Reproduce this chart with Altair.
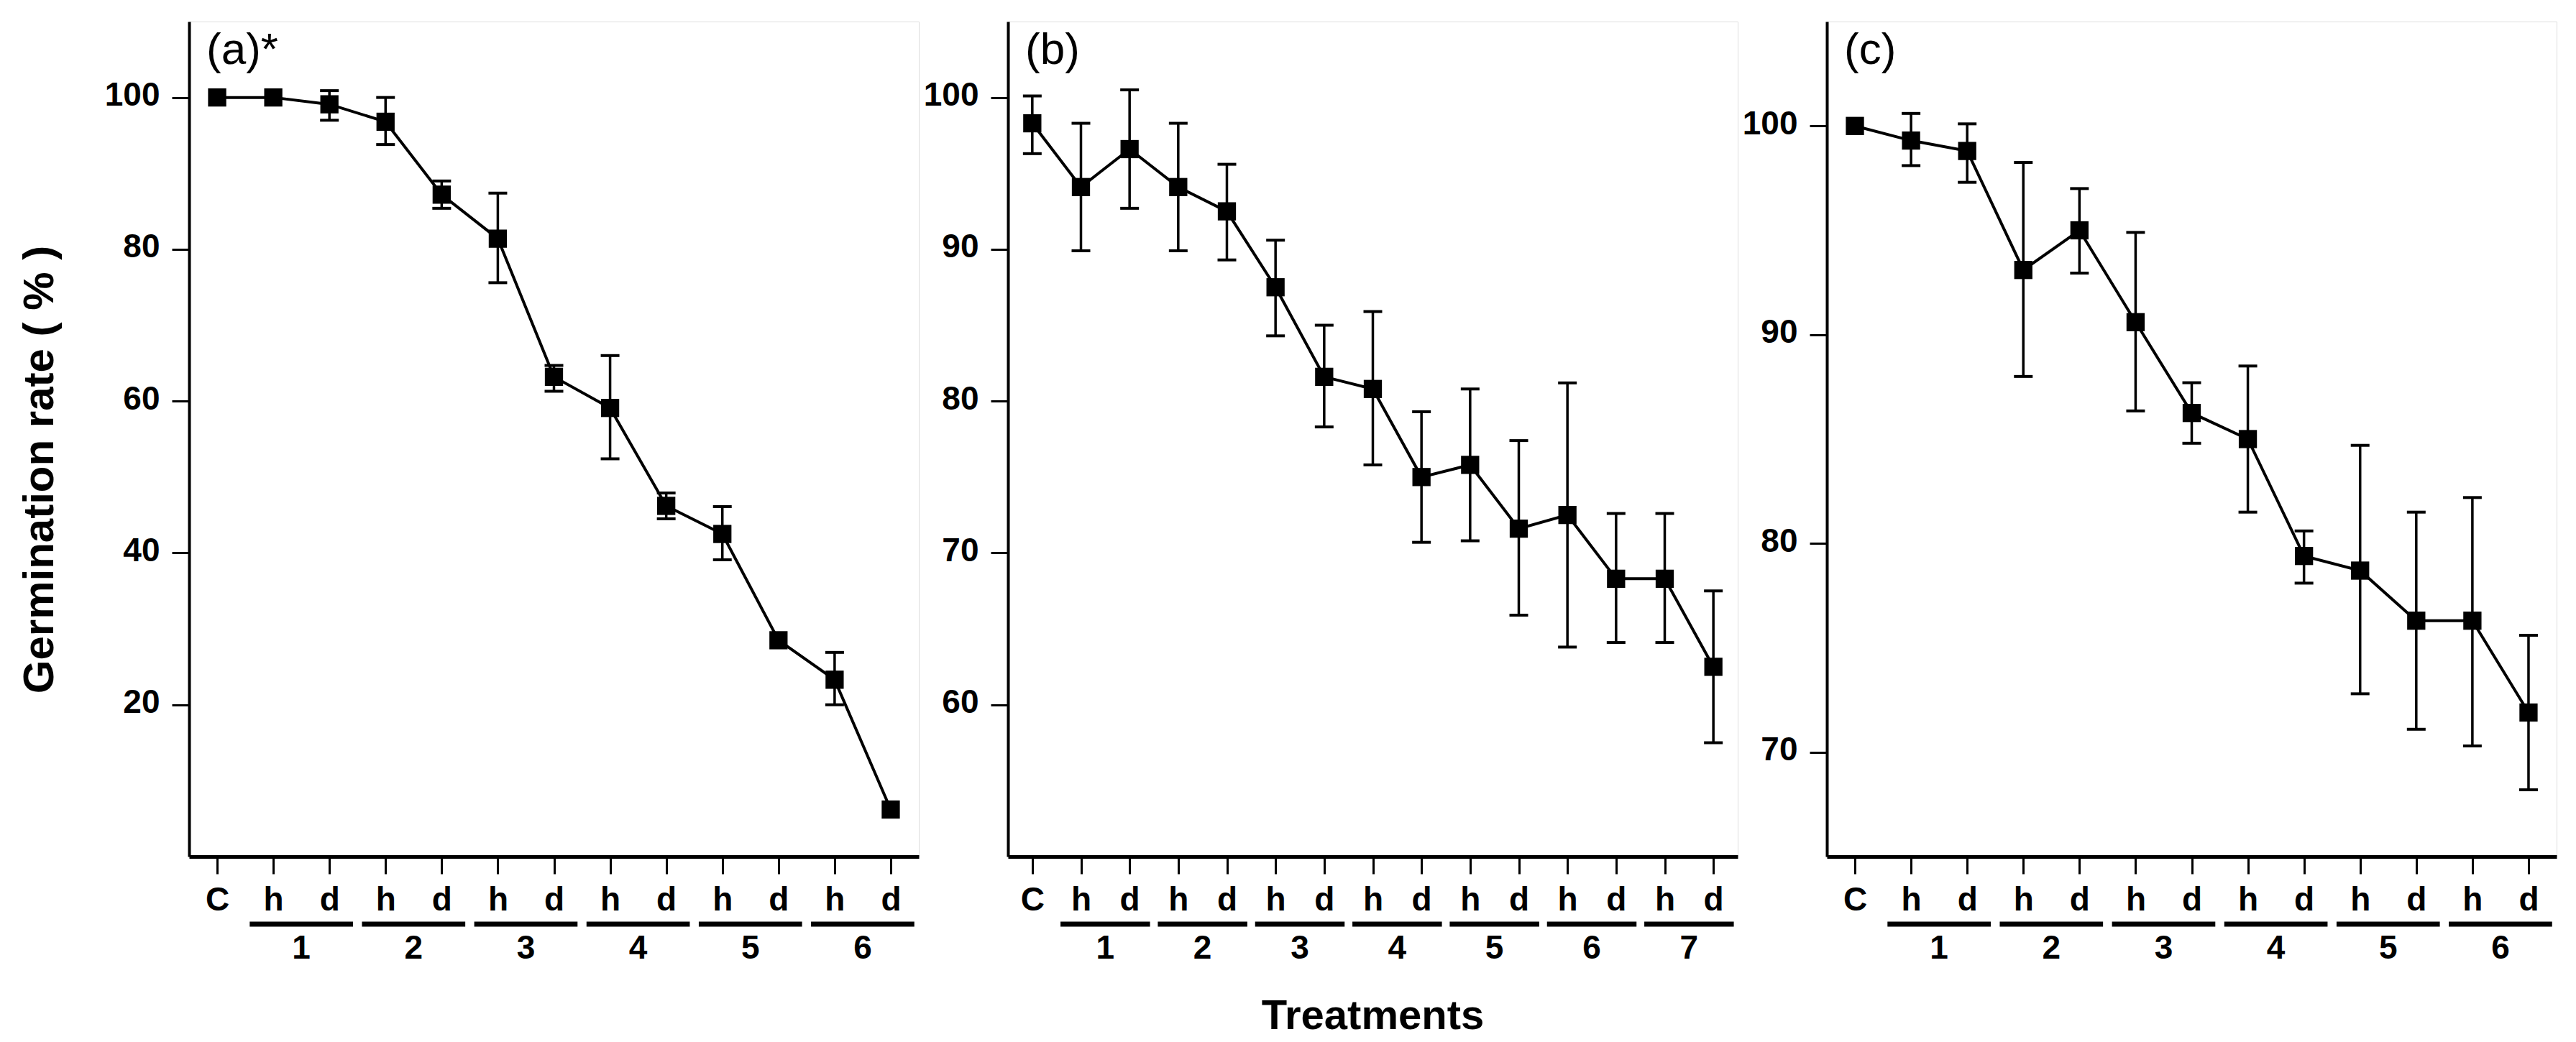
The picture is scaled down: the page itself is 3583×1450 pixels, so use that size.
import altair as alt
import pandas as pd

# ---------------- data ----------------
labels_a = ["C", "h", "d", "h", "d", "h", "d", "h", "d", "h", "d", "h", "d"]
mean_a = [100.0, 100.0, 99.1, 96.8, 87.2, 81.4, 63.2, 59.1, 46.2, 42.5, 28.5, 23.3, 6.2]
upper_a = [None, None, 100.9, 100.0, 89.0, 87.4, 64.7, 66.0, 47.9, 46.1, None, 26.9, None]
lower_a = [None, None, 97.0, 93.8, 85.4, 75.6, 61.3, 52.4, 44.5, 39.1, None, 20.0, None]
groups_a = ["1", "2", "3", "4", "5", "6"]
yticks_a = [20, 40, 60, 80, 100]
ydom_a = [0, 110]

labels_b = ["C", "h", "d", "h", "d", "h", "d", "h", "d", "h", "d", "h", "d", "h", "d"]
mean_b = [98.3, 94.1, 96.6, 94.1, 92.5, 87.5, 81.6, 80.8, 75.0, 75.8, 71.6, 72.5, 68.3, 68.3, 62.5]
upper_b = [100.1, 98.3, 100.5, 98.3, 95.6, 90.6, 85.0, 85.9, 79.3, 80.8, 77.4, 81.2, 72.6, 72.6, 67.5]
lower_b = [96.3, 89.9, 92.7, 89.9, 89.3, 84.3, 78.3, 75.8, 70.7, 70.8, 65.9, 63.8, 64.1, 64.1, 57.5]
groups_b = ["1", "2", "3", "4", "5", "6", "7"]
yticks_b = [60, 70, 80, 90, 100]
ydom_b = [50, 105]

labels_c = ["C", "h", "d", "h", "d", "h", "d", "h", "d", "h", "d", "h", "d"]
mean_c = [100.0, 99.3, 98.8, 93.1, 95.0, 90.6, 86.25, 85.0, 79.4, 78.7, 76.3, 76.3, 71.9]
upper_c = [None, 100.6, 100.1, 98.25, 97.0, 94.9, 87.7, 88.5, 80.6, 84.7, 81.5, 82.2, 75.6]
lower_c = [None, 98.1, 97.3, 88.0, 92.95, 86.35, 84.8, 81.5, 78.1, 72.8, 71.1, 70.3, 68.2]
groups_c = ["1", "2", "3", "4", "5", "6"]
yticks_c = [70, 80, 90, 100]
ydom_c = [65, 105]

y_title = "Germination rate ( % )"
x_title = "Treatments"

FONT = "Liberation Sans"
W = 1015
H = 1162


def panel(labels, mean, upper, lower, groups, ydom, yticks, tag,
          ytitle=None, xtitle=None):
    n = len(labels)
    pos = list(range(n))
    df = pd.DataFrame({"pos": pos, "label": labels, "mean": mean,
                       "upper": upper, "lower": lower})
    half = 13.0 / (W / n)
    df["cap_l"] = df["pos"] - half
    df["cap_r"] = df["pos"] + half
    err = df.dropna(subset=["upper"])

    gdf = pd.DataFrame({
        "g": groups,
        "start": [2 * i + 1 - 0.42 for i in range(len(groups))],
        "end": [2 * i + 2 + 0.42 for i in range(len(groups))],
        "mid": [2 * i + 1.5 for i in range(len(groups))],
    })

    xscale = alt.Scale(domain=[-0.5, n - 0.5], nice=False, zero=False)
    yscale = alt.Scale(domain=ydom, nice=False, zero=False)
    js = "[" + ",".join("'" + s + "'" for s in labels) + "]"
    xaxis = alt.Axis(values=pos, labelExpr=js + "[datum.value]", title=None,
                     grid=False, tickSize=24, tickWidth=3, tickColor="black",
                     domainColor="black", domainWidth=5, labelPadding=14,
                     labelFontSize=46, labelFontWeight="bold", labelColor="black",
                     labelFont=FONT, labelFlush=False, labelOverlap=False)
    yargs = dict(values=yticks, grid=False, tickSize=24, tickWidth=3,
                 tickColor="black", domainColor="black", domainWidth=4,
                 labelPadding=17, labelFontSize=46, labelFontWeight="bold",
                 labelColor="black", labelFont=FONT, labelFlush=False,
                 labelOffset=-3)
    if ytitle:
        yaxis = alt.Axis(title=ytitle, titleFontSize=60, titleFontWeight="bold",
                         titleFont=FONT, titleColor="black", titleX=-177,
                         titleY=623, **yargs)
    else:
        yaxis = alt.Axis(title=None, **yargs)

    def X(f):
        return alt.X(f, type="quantitative", scale=xscale, axis=xaxis)

    def Y(f):
        return alt.Y(f, type="quantitative", scale=yscale, axis=yaxis)

    base = alt.Chart(df)
    line = base.mark_line(color="black", strokeWidth=4).encode(x=X("pos"), y=Y("mean"))
    bars = alt.Chart(err).mark_rule(color="black", strokeWidth=3.5).encode(
        x=X("pos"), y=Y("lower"), y2="upper")
    cap_t = alt.Chart(err).mark_rule(color="black", strokeWidth=4).encode(
        x=X("cap_l"), x2="cap_r", y=Y("upper"))
    cap_b = alt.Chart(err).mark_rule(color="black", strokeWidth=4).encode(
        x=X("cap_l"), x2="cap_r", y=Y("lower"))
    pts = base.mark_square(size=640, color="black", opacity=1, filled=True).encode(
        x=X("pos"), y=Y("mean"))
    under = alt.Chart(gdf).mark_rule(color="black", strokeWidth=7).encode(
        x=X("start"), x2="end", y=alt.value(H + 94))
    nums = alt.Chart(gdf).mark_text(fontSize=46, fontWeight="bold", font=FONT,
                                    baseline="alphabetic", color="black").encode(
        x=X("mid"), y=alt.value(H + 142), text="g:N")
    tg = alt.Chart(pd.DataFrame({"t": [tag]})).mark_text(
        fontSize=62, font=FONT, align="left", baseline="alphabetic",
        color="black").encode(x=alt.value(24), y=alt.value(59), text="t:N")
    layers = [line, bars, cap_t, cap_b, pts, under, nums, tg]
    if xtitle:
        xt = alt.Chart(pd.DataFrame({"t": [xtitle]})).mark_text(
            fontSize=58, font=FONT, fontWeight="bold", align="center",
            baseline="alphabetic", color="black").encode(
            x=alt.value(W / 2), y=alt.value(H + 240), text="t:N")
        layers.append(xt)
    return alt.layer(*layers).properties(width=W, height=H)


pa = panel(labels_a, mean_a, upper_a, lower_a, groups_a, ydom_a, yticks_a, "(a)*",
           ytitle=y_title)
pb = panel(labels_b, mean_b, upper_b, lower_b, groups_b, ydom_b, yticks_b, "(b)",
           xtitle=x_title)
pc = panel(labels_c, mean_c, upper_c, lower_c, groups_c, ydom_c, yticks_c, "(c)")

chart = alt.hconcat(pa, pb, pc, spacing=124, bounds="flush").properties(
    padding={"left": 16, "top": 21, "right": 5, "bottom": 0}
).configure_view(stroke="black", strokeWidth=4).configure(font=FONT, background="white")

chart.save("out.html", embed_options={"renderer": "svg", "actions": False})
